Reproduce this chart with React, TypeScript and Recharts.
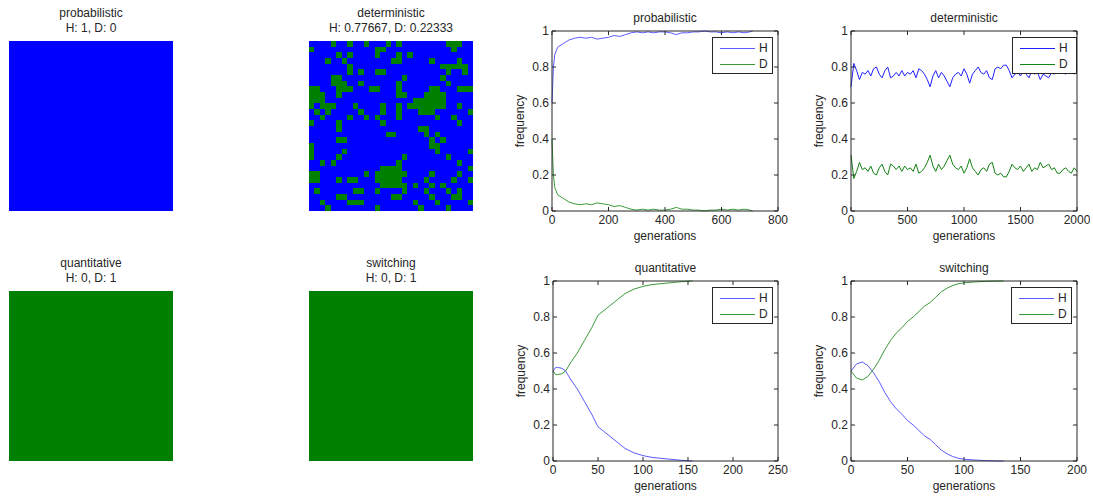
import React from "react";
import {
  LineChart,
  Line,
  XAxis,
  YAxis,
  Legend,
  ScatterChart,
  Scatter,
} from "recharts";

// final lattice states: column indices of the minority cells, one list per row (30 x 30)
const detGridRows = [
  [4, 7, 10, 14, 16, 25, 26, 27],
  [0, 12, 13, 26],
  [5, 7, 12, 16, 18],
  [3, 6, 15, 16, 22, 27],
  [7, 24, 25, 26, 27, 28],
  [7, 9, 12, 13, 25, 28],
  [4, 5, 17, 24],
  [4, 5, 6, 9, 16, 25],
  [0, 1, 5, 6, 7, 11, 12, 16, 22, 23, 27, 28, 29],
  [0, 1, 2, 5, 16, 17, 21, 22, 23, 24],
  [0, 1, 2, 19, 20, 21, 22, 23, 24],
  [0, 2, 3, 4, 8, 13, 16, 18, 19, 20, 21, 22, 23, 24, 27],
  [1, 3, 9, 13, 16, 20, 21, 22, 29],
  [2, 7, 10, 12, 16, 23, 26],
  [0, 5, 13, 27],
  [5, 20, 21],
  [14, 15, 21, 23],
  [5, 6, 22, 24],
  [0, 22, 23],
  [0, 6, 23, 29],
  [0, 5, 17, 25],
  [2, 4, 16, 27],
  [13, 14, 15, 16, 29],
  [0, 1, 10, 12, 13, 14, 15, 16, 17, 22, 27],
  [0, 1, 5, 7, 8, 12, 13, 14, 15, 16, 21, 26, 29],
  [13, 14, 15, 16, 17, 19, 22, 24],
  [1, 8, 9, 12, 17, 21, 25, 27],
  [5, 6, 15, 16, 22, 26, 27],
  [2, 7, 8, 9, 19, 23, 29],
  [3, 12, 20, 25],
];
const emptyRows: number[][] = [];

// frequency runs
const probGen = [0, 5, 10, 20, 40, 60, 80, 100, 120, 140, 160, 180, 200, 220, 240, 260, 280, 300, 320, 340, 360, 380, 400, 420, 440, 460, 480, 500, 520, 540, 560, 580, 600, 620, 640, 660, 680, 700, 710];
const probH = [0.6, 0.8, 0.87, 0.91, 0.93, 0.95, 0.96, 0.965, 0.96, 0.965, 0.955, 0.96, 0.965, 0.975, 0.97, 0.98, 0.99, 0.995, 0.99, 0.995, 0.99, 0.995, 0.995, 0.99, 0.98, 0.99, 0.99, 0.995, 0.995, 1, 0.995, 0.995, 0.99, 0.995, 0.99, 0.995, 0.99, 0.995, 1];
const probD = [0.4, 0.2, 0.13, 0.09, 0.07, 0.05, 0.04, 0.035, 0.04, 0.035, 0.045, 0.04, 0.035, 0.025, 0.03, 0.02, 0.01, 0.005, 0.01, 0.005, 0.01, 0.005, 0.005, 0.01, 0.02, 0.01, 0.01, 0.005, 0.005, 0, 0.005, 0.005, 0.01, 0.005, 0.01, 0.005, 0.01, 0.005, 0];

const detGen = [0, 25, 50, 75, 100, 125, 150, 175, 200, 225, 250, 275, 300, 325, 350, 375, 400, 425, 450, 475, 500, 525, 550, 575, 600, 625, 650, 675, 700, 725, 750, 775, 800, 825, 850, 875, 900, 925, 950, 975, 1000, 1025, 1050, 1075, 1100, 1125, 1150, 1175, 1200, 1225, 1250, 1275, 1300, 1325, 1350, 1375, 1400, 1425, 1450, 1475, 1500, 1525, 1550, 1575, 1600, 1625, 1650, 1675, 1700, 1725, 1750, 1775, 1800, 1825, 1850, 1875, 1900, 1925, 1950, 1975, 2000];
const detH = [
  0.69, 0.82, 0.78, 0.73, 0.77, 0.76, 0.78, 0.75, 0.79, 0.8,
  0.76, 0.74, 0.78, 0.8, 0.74, 0.75, 0.77, 0.75, 0.78, 0.75,
  0.77, 0.76, 0.78, 0.74, 0.79, 0.78, 0.76, 0.73, 0.69, 0.75,
  0.78, 0.74, 0.77, 0.75, 0.72, 0.69, 0.74, 0.76, 0.77, 0.75,
  0.79, 0.76, 0.71, 0.76, 0.78, 0.8, 0.77, 0.76, 0.78, 0.74,
  0.73, 0.79, 0.8, 0.79, 0.81, 0.81, 0.78, 0.74, 0.76, 0.77,
  0.75, 0.78, 0.76, 0.74, 0.78, 0.76, 0.77, 0.73, 0.76, 0.75,
  0.74, 0.77, 0.76, 0.79, 0.79, 0.77, 0.76, 0.78, 0.79, 0.76,
  0.78,
];
const detD = [
  0.31, 0.18, 0.22, 0.27, 0.23, 0.24, 0.22, 0.25, 0.21, 0.2,
  0.24, 0.26, 0.22, 0.2, 0.26, 0.25, 0.23, 0.25, 0.22, 0.25,
  0.23, 0.24, 0.22, 0.26, 0.21, 0.22, 0.24, 0.27, 0.31, 0.25,
  0.22, 0.26, 0.23, 0.25, 0.28, 0.31, 0.26, 0.24, 0.23, 0.25,
  0.21, 0.24, 0.29, 0.24, 0.22, 0.2, 0.23, 0.24, 0.22, 0.26,
  0.27, 0.21, 0.2, 0.21, 0.19, 0.19, 0.22, 0.26, 0.24, 0.23,
  0.25, 0.22, 0.24, 0.26, 0.22, 0.24, 0.23, 0.27, 0.24, 0.25,
  0.26, 0.23, 0.24, 0.21, 0.21, 0.23, 0.24, 0.22, 0.21, 0.24,
  0.22,
];

const quantGen = [0, 3, 5, 10, 14, 20, 27, 35, 43, 50, 60, 70, 80, 90, 100, 110, 120, 130, 140, 150, 155];
const quantH = [0.5, 0.52, 0.52, 0.515, 0.5, 0.45, 0.4, 0.33, 0.26, 0.19, 0.15, 0.11, 0.07, 0.045, 0.03, 0.02, 0.015, 0.01, 0.005, 0.001, 0];
const quantD = [0.5, 0.48, 0.48, 0.485, 0.5, 0.55, 0.6, 0.67, 0.74, 0.81, 0.85, 0.89, 0.93, 0.955, 0.97, 0.98, 0.985, 0.99, 0.995, 0.999, 1];

const switchGen = [0, 5, 10, 15, 20, 25, 30, 35, 40, 45, 50, 55, 60, 65, 70, 75, 80, 85, 90, 95, 100, 110, 120, 130, 135];
const switchH = [0.5, 0.54, 0.55, 0.53, 0.49, 0.44, 0.38, 0.33, 0.29, 0.26, 0.225, 0.2, 0.17, 0.14, 0.12, 0.09, 0.06, 0.04, 0.025, 0.015, 0.01, 0.005, 0.002, 0, 0];
const switchD = [0.5, 0.46, 0.45, 0.47, 0.51, 0.56, 0.62, 0.67, 0.71, 0.74, 0.775, 0.8, 0.83, 0.86, 0.88, 0.91, 0.94, 0.96, 0.975, 0.985, 0.99, 0.995, 0.998, 1, 1];

const yTicks = [0, 0.2, 0.4, 0.6, 0.8, 1];
const legendOrder = ["H", "D"];

const BLUE = "#0000ff";
const GREEN = "#008000";
const INK = "#262626";
const FONT = '"Liberation Sans", Arial, Helvetica, sans-serif';

const GRID_N = 30;
const IMG_W = 164;
const IMG_H = 170;
const CHART_W = 290;
const CHART_H = 250;
const TICK = 4;
const GAP = 3;

// inward MATLAB style ticks
const BottomTick = (p: any) => (
  <g>
    <line x1={p.x} x2={p.x} y1={p.y - GAP} y2={p.y - GAP - TICK} stroke={INK} />
    <text x={p.x} y={p.y} dy="0.8em" textAnchor="middle" fontSize={12} fill={INK} fontFamily={FONT}>
      {p.payload.value}
    </text>
  </g>
);
const LeftTick = (p: any) => (
  <g>
    <line x1={p.x + GAP} x2={p.x + GAP + TICK} y1={p.y} y2={p.y} stroke={INK} />
    <text x={p.x} y={p.y} dy="0.35em" textAnchor="end" fontSize={12} fill={INK} fontFamily={FONT}>
      {p.payload.value}
    </text>
  </g>
);
const TopTick = (p: any) => <line x1={p.x} x2={p.x} y1={p.y} y2={p.y + TICK} stroke={INK} />;
const RightTick = (p: any) => <line x1={p.x} x2={p.x - TICK} y1={p.y} y2={p.y} stroke={INK} />;

const FreqLabel = (p: any) => {
  const vb = p.viewBox || { x: 0, y: 0, width: 0, height: 0 };
  const x = vb.x + 11.5;
  const y = vb.y + vb.height / 2;
  return (
    <text x={x} y={y} transform={`rotate(-90 ${x} ${y})`} textAnchor="middle" fontSize={12} fill={INK} fontFamily={FONT}>
      frequency
    </text>
  );
};
const GenLabel = (p: any) => {
  const vb = p.viewBox || { x: 0, y: 0, width: 0, height: 0 };
  return (
    <text x={vb.x + vb.width / 2} y={vb.y + 28.5} textAnchor="middle" fontSize={12} fill={INK} fontFamily={FONT}>
      generations
    </text>
  );
};

const makeLegend = (w: number) => (props: any) => {
  const items = (props.payload || [])
    .filter((e: any) => legendOrder.includes(e.value) && e.type !== "none")
    .sort((a: any, b: any) => legendOrder.indexOf(a.value) - legendOrder.indexOf(b.value));
  return (
    <div
      style={{
        width: w,
        height: 37,
        boxSizing: "border-box",
        border: `1px solid ${INK}`,
        background: "#fff",
        paddingTop: 2,
        fontFamily: FONT,
        fontSize: 12,
        color: INK,
      }}
    >
      {items.map((e: any) => (
        <div key={e.value} style={{ display: "flex", alignItems: "center", height: 16 }}>
          <svg width={46} height={16} style={{ display: "block" }}>
            <line x1={7} x2={42} y1={8.5} y2={8.5} stroke={e.color} strokeWidth={1} />
          </svg>
          <span>{e.value}</span>
        </div>
      ))}
    </div>
  );
};

type RunProps = {
  left: number;
  top: number;
  title: string;
  gen: number[];
  h: number[];
  d: number[];
  xMax: number;
  xTicks: number[];
  mLeft: number;
  mRight: number;
  legendLeft: number;
  legendW: number;
  hColor: string;
  dColor: string;
};

function RunChart(p: RunProps) {
  const rows = p.gen.map((g, i) => ({ g, H: p.h[i], D: p.d[i] }));
  const plotLeft = p.mLeft + 40;
  const plotW = CHART_W - plotLeft - p.mRight;
  return (
    <div style={{ position: "absolute", left: p.left, top: p.top, width: CHART_W, height: CHART_H }}>
      <div
        style={{
          position: "absolute",
          left: plotLeft,
          width: plotW,
          top: 11,
          textAlign: "center",
          fontSize: 12,
          lineHeight: "15px",
          color: INK,
          fontFamily: FONT,
        }}
      >
        {p.title}
      </div>
      <LineChart
        width={CHART_W}
        height={CHART_H}
        data={rows}
        margin={{ top: 30, right: p.mRight - 1, bottom: 11, left: p.mLeft }}
      >
        <XAxis
          dataKey="g"
          type="number"
          domain={[0, p.xMax]}
          ticks={p.xTicks}
          interval={0}
          height={28}
          tickSize={0}
          tickMargin={GAP}
          tickLine={false}
          tick={BottomTick}
          axisLine={{ stroke: INK }}
          label={<GenLabel />}
        />
        <XAxis
          xAxisId="top"
          orientation="top"
          dataKey="g"
          type="number"
          domain={[0, p.xMax]}
          ticks={p.xTicks}
          interval={0}
          height={1}
          tickSize={0}
          tickMargin={0}
          tickLine={false}
          tick={TopTick}
          axisLine={{ stroke: INK }}
        />
        <YAxis
          type="number"
          domain={[0, 1]}
          ticks={yTicks}
          interval={0}
          width={40}
          tickSize={0}
          tickMargin={GAP}
          tickLine={false}
          tick={LeftTick}
          axisLine={{ stroke: INK }}
          label={<FreqLabel />}
        />
        <YAxis
          yAxisId="right"
          orientation="right"
          type="number"
          domain={[0, 1]}
          ticks={yTicks}
          interval={0}
          width={1}
          tickSize={0}
          tickMargin={0}
          tickLine={false}
          tick={RightTick}
          axisLine={{ stroke: INK }}
        />
        <Legend
          layout="vertical"
          align="center"
          verticalAlign="middle"
          wrapperStyle={{ left: p.legendLeft, top: 37, width: p.legendW, height: 37 }}
          content={makeLegend(p.legendW)}
        />
        <Line type="linear" dataKey="H" name="H" stroke={p.hColor} strokeWidth={1} dot={false} isAnimationActive={false} />
        <Line type="linear" dataKey="D" name="D" stroke={p.dColor} strokeWidth={1} dot={false} isAnimationActive={false} />
        {/* invisible copy bound to the top/right frame axes so they get a domain */}
        <Line
          xAxisId="top"
          yAxisId="right"
          type="linear"
          dataKey="H"
          name="frame"
          stroke="none"
          dot={false}
          legendType="none"
          isAnimationActive={false}
        />
      </LineChart>
    </div>
  );
}

type GridProps = {
  left: number;
  top: number;
  title: string;
  stat: string;
  base: string;
  other: string;
  rows: number[][];
};

function GridPanel(p: GridProps) {
  const cells: { x: number; y: number; fill: string }[] = [];
  for (let r = 0; r < GRID_N; r++) {
    const minority = p.rows[r] || [];
    for (let c = 0; c < GRID_N; c++) {
      cells.push({ x: c + 0.5, y: r + 0.5, fill: minority.includes(c) ? p.other : p.base });
    }
  }
  const cw = IMG_W / GRID_N;
  const ch = IMG_H / GRID_N;
  const CellShape = (s: any) => (
    <rect
      x={s.cx - cw / 2}
      y={s.cy - ch / 2}
      width={cw + 0.6}
      height={ch + 0.6}
      fill={s.payload ? s.payload.fill : s.fill}
      shapeRendering="crispEdges"
    />
  );
  return (
    <>
      <div
        style={{
          position: "absolute",
          left: p.left - 40,
          width: IMG_W + 80,
          top: p.top - 35,
          textAlign: "center",
          fontSize: 12,
          lineHeight: "15px",
          color: INK,
          fontFamily: FONT,
        }}
      >
        <div>{p.title}</div>
        <div>{p.stat}</div>
      </div>
      <div style={{ position: "absolute", left: p.left, top: p.top }}>
        <ScatterChart width={IMG_W} height={IMG_H} margin={{ top: 0, right: 0, bottom: 0, left: 0 }}>
          <XAxis type="number" dataKey="x" domain={[0, GRID_N]} hide />
          <YAxis type="number" dataKey="y" domain={[0, GRID_N]} reversed hide />
          <Scatter data={cells} shape={CellShape} isAnimationActive={false} />
        </ScatterChart>
      </div>
    </>
  );
}

export default function App() {
  return (
    <div
      style={{
        position: "absolute",
        left: 0,
        top: 0,
        width: 1093,
        height: 496,
        background: "#fff",
        overflow: "hidden",
        fontFamily: FONT,
      }}
    >
      <GridPanel left={9} top={41} title="probabilistic" stat="H: 1, D: 0" base={BLUE} other={GREEN} rows={emptyRows} />
      <GridPanel left={309} top={41} title="deterministic" stat="H: 0.77667, D: 0.22333" base={BLUE} other={GREEN} rows={detGridRows} />
      <GridPanel left={9} top={291} title="quantitative" stat="H: 0, D: 1" base={GREEN} other={BLUE} rows={emptyRows} />
      <GridPanel left={309} top={291} title="switching" stat="H: 0, D: 1" base={GREEN} other={BLUE} rows={emptyRows} />

      <RunChart
        left={500} top={0} title="probabilistic"
        gen={probGen} h={probH} d={probD}
        xMax={800} xTicks={[0, 200, 400, 600, 800]}
        mLeft={12} mRight={12} legendLeft={212} legendW={61}
        hColor="#5c5cff" dColor="#3a9a3a"
      />
      <RunChart
        left={800} top={0} title="deterministic"
        gen={detGen} h={detH} d={detD}
        xMax={2000} xTicks={[0, 500, 1000, 1500, 2000]}
        mLeft={11} mRight={13} legendLeft={212} legendW={65}
        hColor="#2020ff" dColor="#128212"
      />
      <RunChart
        left={500} top={250} title="quantitative"
        gen={quantGen} h={quantH} d={quantD}
        xMax={250} xTicks={[0, 50, 100, 150, 200, 250]}
        mLeft={13} mRight={12} legendLeft={212} legendW={61}
        hColor="#5c5cff" dColor="#3a9a3a"
      />
      <RunChart
        left={800} top={250} title="switching"
        gen={switchGen} h={switchH} d={switchD}
        xMax={200} xTicks={[0, 50, 100, 150, 200]}
        mLeft={11} mRight={13} legendLeft={211} legendW={61}
        hColor="#5c5cff" dColor="#3a9a3a"
      />
    </div>
  );
}
